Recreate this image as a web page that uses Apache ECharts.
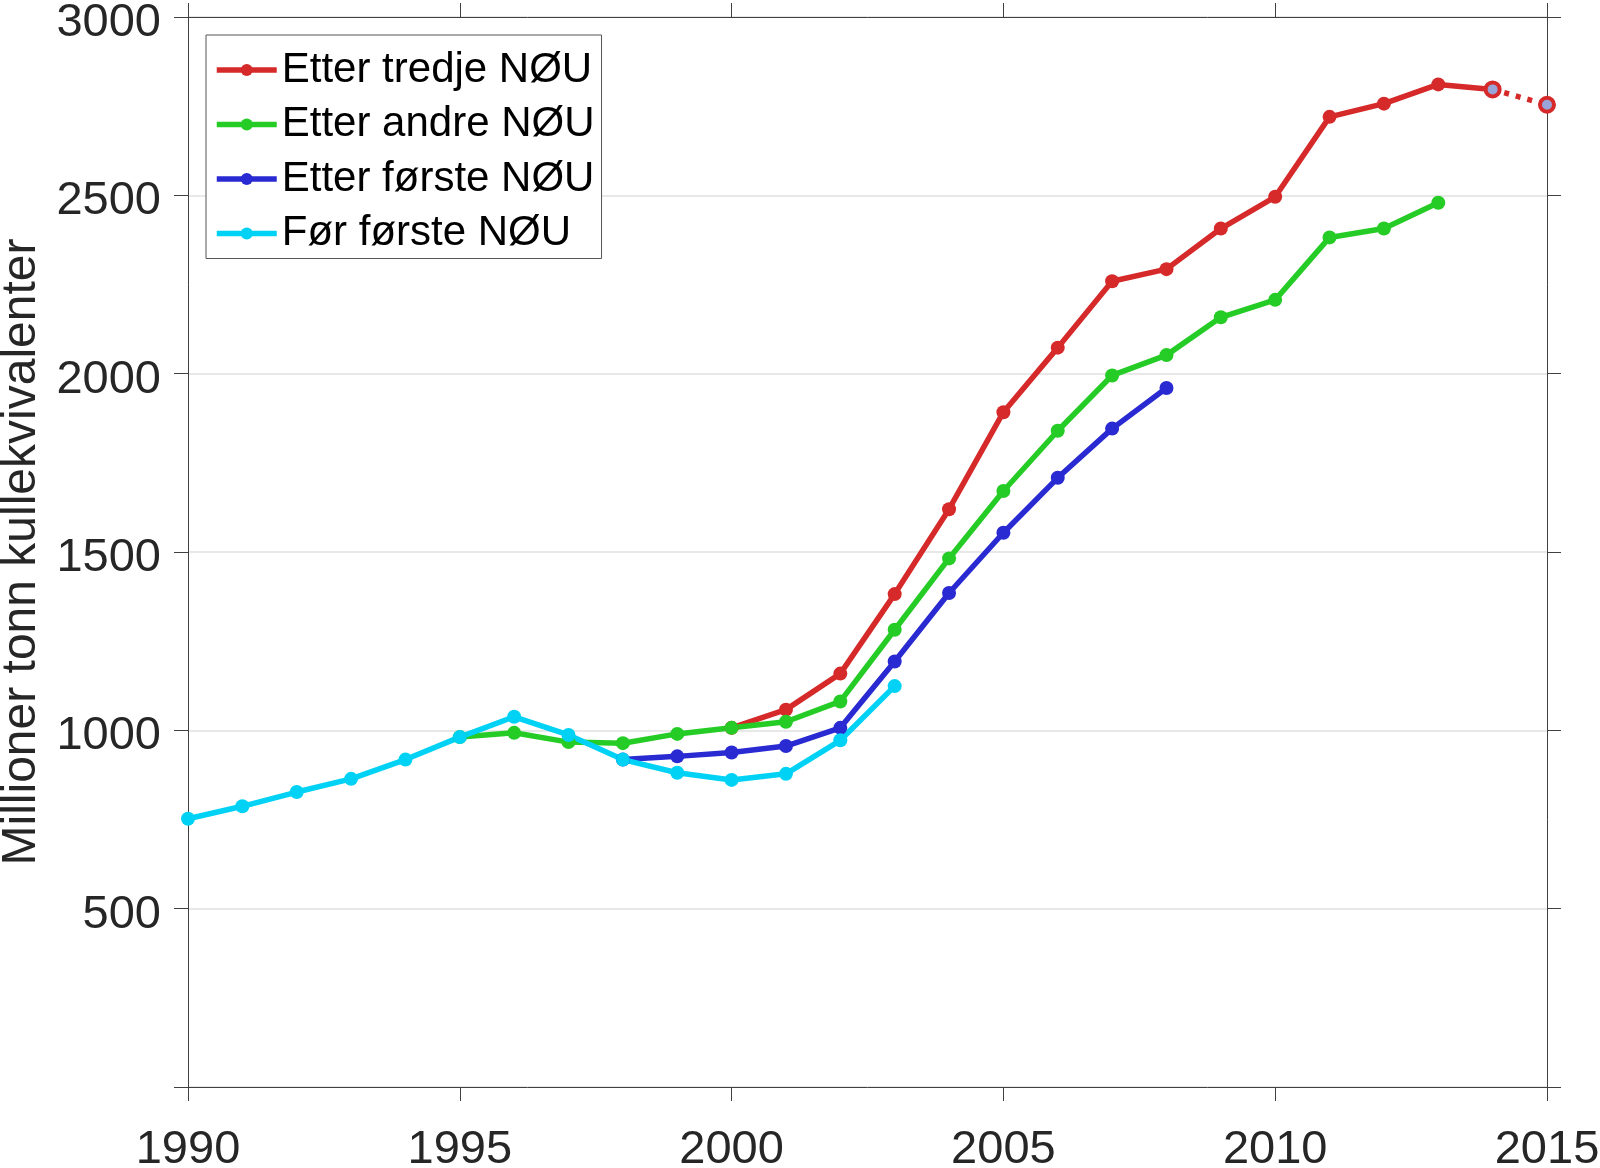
<!DOCTYPE html>
<html>
<head>
<meta charset="utf-8">
<script src="https://cdn.jsdelivr.net/npm/echarts@6/dist/echarts.min.js"></script>
<style>
html,body{margin:0;padding:0;background:#fff;}
#chart{width:1600px;height:1168px;}
</style>
</head>
<body>
<div id="chart"></div>
<script>
// Data
const redYears = [2000,2001,2002,2003,2004,2005,2006,2007,2008,2009,2010,2011,2012,2013,2014];
const redVals  = [1007,1058,1159,1382,1620,1892,2073,2259,2293,2407,2496,2720,2757,2811,2797];
const redProjYears = [2014,2015];
const redProjVals  = [2797,2754];
const greenYears = [1995,1996,1997,1998,1999,2000,2001,2002,2003,2004,2005,2006,2007,2008,2009,2010,2011,2012,2013];
const greenVals  = [981,993,967,964,990,1007,1024,1081,1282,1482,1671,1840,1995,2052,2158,2207,2382,2407,2479];
const blueYears = [1998,1999,2000,2001,2002,2003,2004,2005,2006,2007,2008];
const blueVals  = [918,927,938,956,1007,1193,1385,1554,1708,1846,1960];
const cyanYears = [1990,1991,1992,1993,1994,1995,1996,1997,1998,1999,2000,2001,2002,2003];
const cyanVals  = [752,787,827,864,918,981,1038,987,918,881,861,878,972,1124];
const names = ['Etter tredje NØU','Etter andre NØU','Etter første NØU','Før første NØU'];
const yTitle = 'Millioner tonn kullekvivalenter';

const colors = {red:'#d62a2a', green:'#26cc26', blue:'#2a2ad2', cyan:'#00d2f5'};
const pair = (xs, ys) => xs.map((x,i)=>[x, ys[i]]);
const FONT = '"Liberation Sans", Arial, Helvetica, sans-serif';
const axisColor = '#404040';

function lineSeries(name, data, color, extra) {
  return Object.assign({
    name, type:'line', data,
    symbol:'circle', symbolSize:14, showSymbol:true,
    lineStyle:{color, width:5.5},
    itemStyle:{color},
    emphasis:{disabled:true},
    animation:false
  }, extra||{});
}

const chart = echarts.init(document.getElementById('chart'));
chart.setOption({
  backgroundColor:'#fff',
  animation:false,
  grid:{left:188, right:53, top:17, bottom:81, containLabel:false, outerBoundsMode:'none'},
  legend:{
    data:names,
    orient:'vertical',
    left:206, top:35,
    backgroundColor:'#fff',
    borderColor:'#555', borderWidth:1, borderRadius:0,
    padding:[10,7,0,8],
    itemWidth:60, itemHeight:15, itemGap:4.5,
    lineStyle:{width:5.5},
    textStyle:{fontFamily:FONT, fontSize:42, color:'#000', lineHeight:50},
    selectedMode:false
  },
  xAxis:[{
    type:'value', min:1990, max:2015, interval:5,
    axisLine:{show:true, onZero:false, lineStyle:{color:axisColor, width:1}},
    axisTick:{show:true, inside:false, length:14, lineStyle:{color:axisColor}},
    axisLabel:{margin:40, fontFamily:FONT, fontSize:47, color:'#262626', formatter:v=>String(v)},
    splitLine:{show:false}
  },{
    type:'value', min:1990, max:2015, interval:5, position:'top',
    axisLine:{show:true, onZero:false, lineStyle:{color:axisColor, width:1}},
    axisTick:{show:true, inside:false, length:14, lineStyle:{color:axisColor}},
    axisLabel:{show:false}, splitLine:{show:false}
  }],
  yAxis:[{
    type:'value', min:0, max:3000, interval:500,
    name:yTitle, nameLocation:'middle', nameGap:140, nameRotate:90,
    nameTextStyle:{fontFamily:FONT, fontSize:48, color:'#262626'},
    axisLine:{show:true, onZero:false, lineStyle:{color:axisColor, width:1}},
    axisTick:{show:true, inside:false, length:14, lineStyle:{color:axisColor}},
    axisLabel:{margin:27, fontFamily:FONT, fontSize:47, color:'#262626',
      verticalAlign:'top', lineHeight:12,
      formatter:v=> v===0 ? '' : String(v)},
    splitLine:{show:true, lineStyle:{color:'#e0e0e0', width:1.5}}
  },{
    type:'value', min:0, max:3000, interval:500, position:'right',
    axisLine:{show:true, onZero:false, lineStyle:{color:axisColor, width:1}},
    axisTick:{show:true, inside:false, length:14, lineStyle:{color:axisColor}},
    axisLabel:{show:false}, splitLine:{show:false}
  }],
  series:[
    lineSeries(names[0], pair(redYears, redVals), colors.red),
    lineSeries('proj', pair(redProjYears, redProjVals), colors.red, {
      lineStyle:{color:colors.red, width:5.5, type:[5,7]},
      itemStyle:{color:'#9aa4d8', borderColor:colors.red, borderWidth:4}
    }),
    lineSeries(names[1], pair(greenYears, greenVals), colors.green),
    lineSeries(names[2], pair(blueYears, blueVals), colors.blue),
    lineSeries(names[3], pair(cyanYears, cyanVals), colors.cyan)
  ]
});
</script>
</body>
</html>
